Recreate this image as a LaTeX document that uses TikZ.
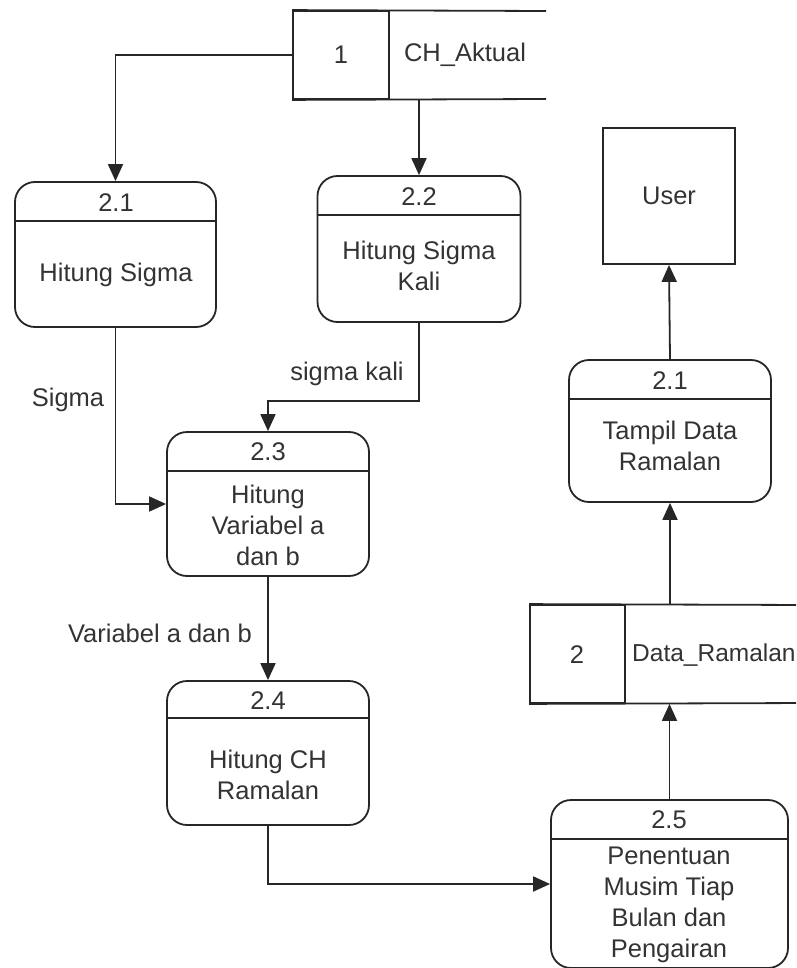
\documentclass[tikz,border=0pt]{standalone}
\usepackage{fontspec}
\setmainfont{Liberation Sans}
\usetikzlibrary{arrows.meta,calc}
\begin{document}
\begin{tikzpicture}[x=1pt,y=-1pt,
  ln/.style={draw=black!85,line width=1.8pt},
  proc/.style={ln,rounded corners=20pt,rectangle,inner sep=0pt},
  box/.style={ln,rectangle,inner sep=0pt},
  txt/.style={text=black!80,font=\fontsize{25.5}{31}\selectfont,align=center,inner sep=0pt},
  arr/.style={ln,-{Triangle[length=17pt,width=15pt]}}]
\useasboundingbox (0,0) rectangle (796,968);
\clip (0,0) rectangle (796,968);

% data store 1
\node[box,minimum width=96pt,minimum height=88pt] (s1) at (341,55) {};
\draw[ln] (s1.north west) -- (546,11);
\draw[ln] (s1.south west) -- (546,99);
\node[txt] (s1n) at (341,55) {1};
\node[txt] (s1t) at (465,55) {CH\_Aktual};

% data store 2
\node[box,minimum width=95pt,minimum height=98pt] (s2) at (577.5,654) {};
\draw[ln] (s2.north west) -- (810,605);
\draw[ln] (s2.south west) -- (810,703);
\node[txt] (s2n) at (577,655) {2};
\node[txt,anchor=west,font=\fontsize{24.5}{31}\selectfont] (s2t) at (632,655) {Data\_Ramalan};

% external entity
\node[box,minimum width=132pt,minimum height=136pt] (user) at (669,196) {};
\node[txt] (usert) at (669,196) {User};

% processes
\node[proc,minimum width=201pt,minimum height=145pt] (p21) at (115.5,254.5) {};
\node[proc,minimum width=203pt,minimum height=146pt] (p22) at (419,249) {};
\node[proc,minimum width=202pt,minimum height=144pt] (p23) at (268,504) {};
\node[proc,minimum width=202pt,minimum height=144pt] (p24) at (268,753) {};
\node[proc,minimum width=202pt,minimum height=142pt] (p2t) at (670,431) {};
\node[proc,minimum width=237pt,minimum height=168pt] (p25) at (669.5,884) {};

% header dividers
\foreach \p/\d in {p21/40,p22/40,p23/40,p24/38,p2t/40,p25/40}
  \draw[ln] ([yshift=-\d pt]\p.north west) -- ([yshift=-\d pt]\p.north east);

% process texts
\node[txt] (p21i) at (116,203) {2.1};
\node[txt] (p21t) at (116,275) {Hitung Sigma};
\node[txt] (p22i) at (419,197) {2.2};
\node[txt] (p22t) at (419,266) {Hitung Sigma\\Kali};
\node[txt] (p23i) at (268,452) {2.3};
\node[txt] (p23t) at (268,525) {Hitung\\Variabel a\\dan b};
\node[txt] (p24i) at (268,701) {2.4};
\node[txt] (p24t) at (268,775) {Hitung CH\\Ramalan};
\node[txt] (p2ti) at (670,381) {2.1};
\node[txt] (p2tt) at (670,446) {Tampil Data\\Ramalan};
\node[txt] (p25i) at (669,820) {2.5};
\node[txt] (p25t) at (669,905) {Penentuan\\Musim Tiap\\Bulan dan\\Pengairan};

% flows
\draw[arr] (s1.west) -| (p21.north);
\draw[arr] (p22.north |- s1.south) -- (p22.north);
\draw[arr] (p21.south) |- (p23.west);
\draw[arr] (p22.south) -- ++(0,78) -| (p23.north);
\draw[arr] (p23.south) -- (p24.north);
\draw[arr] (p24.south) |- (p25.west);
\draw[arr] (p25.north) -- (p25.north |- s2.south);
\draw[arr] (p2t.south |- s2.north) -- (p2t.south);
\draw[arr] (p2t.north) -- (user.south);

% flow labels
\node[txt] (lsig) at (68,400) {Sigma};
\node[txt] (lsk) at (347,374) {sigma kali};
\node[txt] (lvar) at (160,633) {Variabel a dan b};
\end{tikzpicture}
\end{document}
